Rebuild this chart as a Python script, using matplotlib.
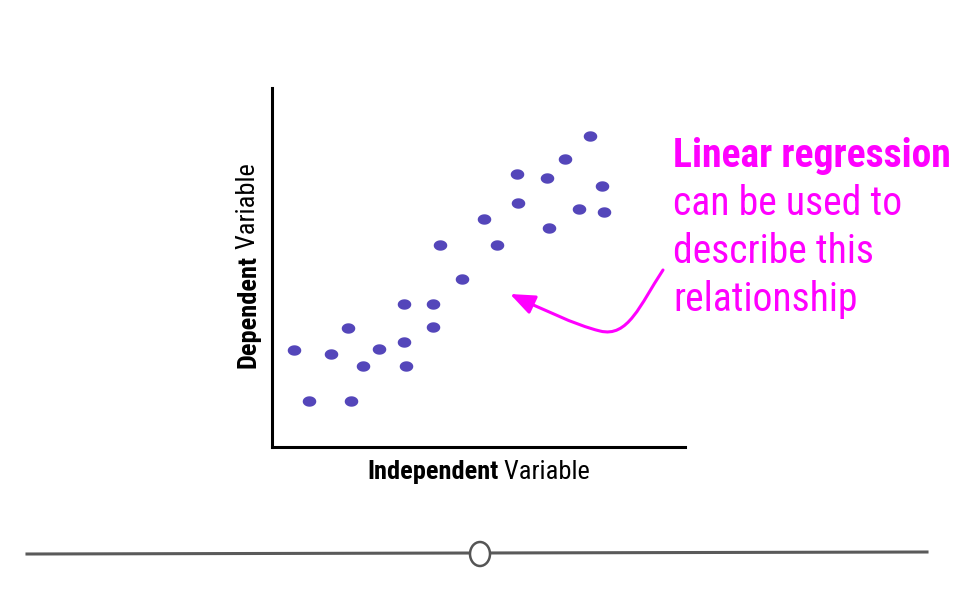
import matplotlib
matplotlib.use("Agg")
import matplotlib.pyplot as plt
import numpy as np
from matplotlib import font_manager
from matplotlib.lines import Line2D
from matplotlib.patches import Ellipse, FancyArrowPatch
from matplotlib.path import Path

# values on a 0-100 scale for both axes
x_vals = [5.3, 9.0, 14.3, 18.4, 19.1, 22.0, 25.9, 32.0, 32.0, 32.4, 39.0, 39.0,
          40.7, 46.0, 51.3, 54.5, 59.3, 59.6, 66.6, 67.1, 70.9, 74.3, 77.0, 79.9, 80.4]
y_vals = [27.0, 12.8, 25.9, 33.1, 12.8, 22.6, 27.3, 39.8, 29.2, 22.6, 39.8, 33.4,
          56.3, 46.8, 63.5, 56.3, 76.0, 68.0, 74.9, 61.0, 80.2, 66.3, 86.6, 72.7, 65.5]
note_title = "Linear regression"
note_lines = ["can be used to", "describe this", "relationship"]
x_label = ("Independent", " Variable")
y_label = ("Dependent", " Variable")

W, H = 960, 600
DOT = "#5446BA"
PINK = "#FF00FF"

names = {f.name for f in font_manager.fontManager.ttflist}
FONT = next((f for f in ["Roboto Condensed", "Liberation Sans Narrow", "Roboto"] if f in names),
            "DejaVu Sans")
plt.rcParams["font.family"] = [FONT, "DejaVu Sans"]


def fx(px):
    return px / W


def fy(py):
    return 1 - py / H


fig = plt.figure(figsize=(W / 100, H / 100), dpi=100)

ax = fig.add_axes([fx(272), fy(447), 413 / W, 359 / H])
t = np.linspace(0, 2 * np.pi, 60)
dot = Path(np.column_stack([1.3 * np.cos(t), np.sin(t)]))
ax.scatter(x_vals, y_vals, marker=dot, s=95, color=DOT, linewidths=0)
ax.set_xlim(0, 100); ax.set_ylim(0, 100)
for side in ["top", "right"]:
    ax.spines[side].set_visible(False)
for side in ["left", "bottom"]:
    ax.spines[side].set_linewidth(2.2); ax.spines[side].set_capstyle("projecting")
ax.set_xticks([]); ax.set_yticks([])

# axis labels: bold word followed by regular word
lab = dict(size=19, color="black")
tx = fig.text(fx(367), fy(479), x_label[0], weight="bold", ha="left", va="baseline", **lab)
ty = fig.text(fx(255), fy(368), y_label[0], weight="bold", rotation=90, rotation_mode="anchor",
              ha="left", va="baseline", **lab)
fig.canvas.draw()
r = fig.canvas.get_renderer()
bx, by = tx.get_window_extent(r), ty.get_window_extent(r)
fig.text(bx.x1 / W, fy(479), x_label[1], ha="left", va="baseline", **lab)
fig.text(fx(255), by.y1 / H, y_label[1], rotation=90, rotation_mode="anchor",
         ha="left", va="baseline", **lab)

# annotation text
big = 28.5 if FONT != "Roboto" else 23
fig.text(fx(673), fy(167), note_title, weight="bold", size=big, color=PINK, va="baseline")
for i, line in enumerate(note_lines):
    fig.text(fx(673), fy(215 + 48 * i), line, size=big, color=PINK, va="baseline")

# curved arrow
pts = [(663, 270), (640, 305), (628, 338), (600, 331), (575, 325), (540, 308), (510, 294)]
codes = [Path.MOVETO] + [Path.CURVE4] * 6
arrow = FancyArrowPatch(path=Path([(fx(a), fy(b)) for a, b in pts], codes),
                        arrowstyle="-|>,head_length=0.75,head_width=0.3", mutation_scale=20,
                        color=PINK, lw=2.2, transform=fig.transFigure)
fig.add_artist(arrow)

# slider
fig.add_artist(Line2D([fx(27), fx(927)], [fy(554), fy(552)], color="#5a5a5a", lw=2.2,
                      transform=fig.transFigure))
fig.add_artist(Ellipse((fx(480), fy(554)), 20 / W, 24 / H, facecolor="white",
                       edgecolor="#555555", lw=1.8, transform=fig.transFigure, zorder=3))

fig.savefig("out.png", dpi=100)
